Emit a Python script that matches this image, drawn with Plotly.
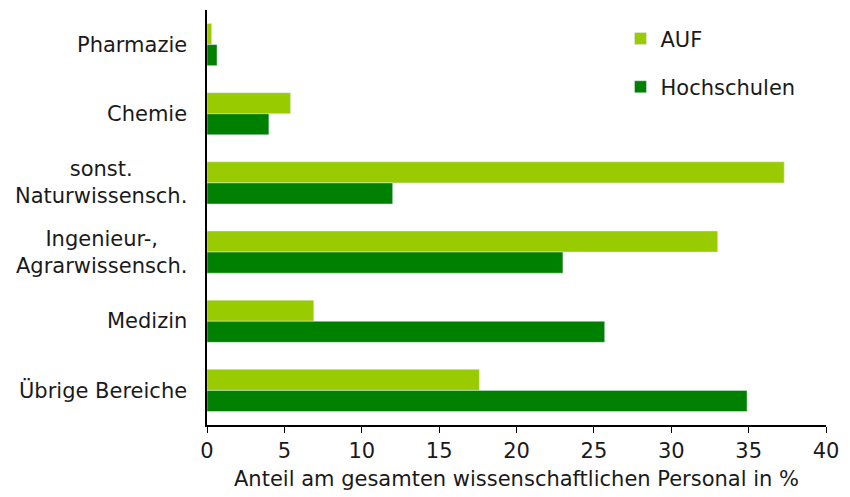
import plotly.graph_objs as go

categories = ['Pharmazie', 'Chemie', 'sonst.<br>Naturwissensch.',
              'Ingenieur-,<br>Agrarwissensch.', 'Medizin', 'Übrige Bereiche']
auf = [0.3, 5.4, 37.3, 33.0, 6.9, 17.6]
hochschulen = [0.65, 4.0, 12.0, 23.0, 25.7, 34.9]
x_ticks = [0, 5, 10, 15, 20, 25, 30, 35, 40]

FONT = 'DejaVu Sans, Verdana, sans-serif'

data = [
    go.Bar(y=categories, x=auf, orientation='h', name='AUF',
           marker=dict(color='#99cc00'), legendgroup='a'),
    go.Bar(y=categories, x=hochschulen, orientation='h', name='Hochschulen',
           marker=dict(color='#008000'), legendgroup='b'),
]

# category labels as centred annotations (multi-line labels are centred)
labels = [go.layout.Annotation(
    x=0, y=cat, xref='paper', yref='y', text=cat,
    xanchor='right', yanchor='middle', align='center', xshift=-18,
    showarrow=False, font=dict(size=21)
) for cat in categories]

# page body has an 8px margin, so the figure is 8px smaller and shifted
layout = go.Layout(
    width=842, height=489,
    plot_bgcolor='white', paper_bgcolor='white',
    font=dict(family=FONT, size=21, color='#1a1a1a'),
    barmode='group', bargap=0.39, bargroupgap=0,
    margin=dict(l=199, r=24, t=2, b=72),
    xaxis=dict(range=[0, 40], tickvals=x_ticks, showgrid=False,
               zeroline=False, showline=True, linecolor='black', linewidth=1.5,
               ticks='outside', ticklen=6, tickcolor='black',
               tickfont=dict(size=21), automargin=False,
               title=dict(text='Anteil am gesamten wissenschaftlichen Personal in %',
                          font=dict(family=FONT, size=21), standoff=9)),
    yaxis=dict(autorange='reversed', showgrid=False, showline=True,
               linecolor='black', linewidth=1.5, ticks='',
               showticklabels=False, automargin=False),
    legend=dict(x=0.668, y=0.98, xanchor='left', yanchor='top',
                tracegroupgap=18, font=dict(size=21),
                bgcolor='rgba(0,0,0,0)'),
    annotations=labels,
)

fig = go.Figure(data=data, layout=layout)
fig.write_html('out.html')
